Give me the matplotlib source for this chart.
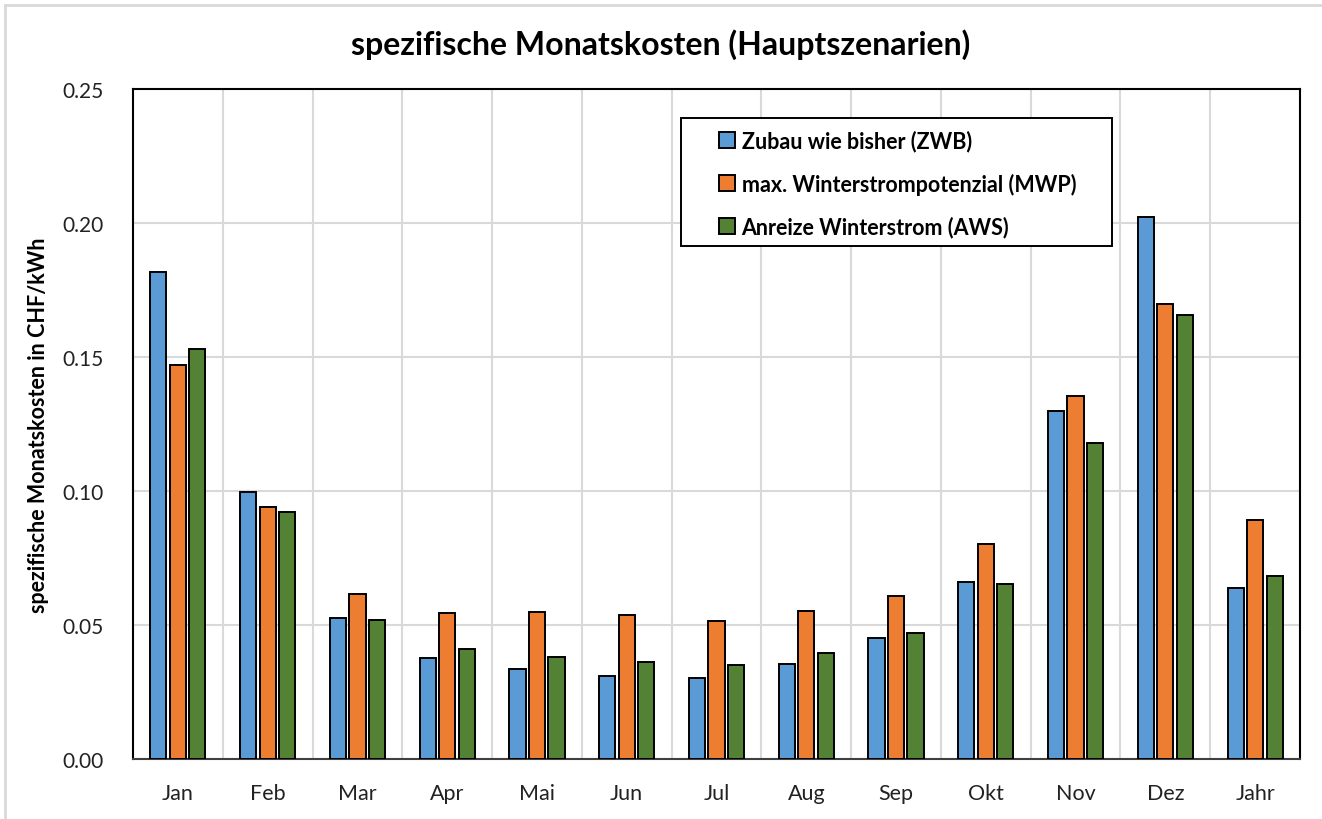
import matplotlib
matplotlib.use("Agg")
import matplotlib.pyplot as plt
import numpy as np
from matplotlib.lines import Line2D
from matplotlib.patches import Rectangle

categories = ["Jan", "Feb", "Mar", "Apr", "Mai", "Jun", "Jul", "Aug", "Sep", "Okt", "Nov", "Dez", "Jahr"]
series_names = ["Zubau wie bisher (ZWB)", "max. Winterstrompotenzial (MWP)", "Anreize Winterstrom (AWS)"]
zwb = [0.1817, 0.0995, 0.0527, 0.0377, 0.0336, 0.0311, 0.0303, 0.0356, 0.0450, 0.0660, 0.1297, 0.2024, 0.0639]
mwp = [0.1471, 0.0939, 0.0616, 0.0546, 0.0550, 0.0539, 0.0514, 0.0552, 0.0609, 0.0802, 0.1353, 0.1698, 0.0892]
aws = [0.1531, 0.0923, 0.0517, 0.0409, 0.0381, 0.0363, 0.0352, 0.0396, 0.0469, 0.0653, 0.1178, 0.1657, 0.0683]
yticks = [0.00, 0.05, 0.10, 0.15, 0.20, 0.25]
colors = ["#5B9BD5", "#ED7D31", "#548235"]

plt.rcParams['font.family'] = ['Lato', 'DejaVu Sans']

W, H = 1322, 820
fig = plt.figure(figsize=(W/100, H/100), dpi=100)
ax = fig.add_axes([133/W, 1-760/H, (1300-133)/W, (760-90)/H])

x = np.arange(len(categories))
w = 0.18
off = 0.217
for i, (vals, c, name) in enumerate(zip([zwb, mwp, aws], colors, series_names)):
    ax.bar(x + (i-1)*off, vals, width=w, color=c, edgecolor="black", linewidth=1.4,
           label=name, zorder=3)

ax.set_xlim(-0.5, len(categories)-0.5)
ax.set_ylim(0, 0.25)
ax.set_yticks(yticks)
ax.set_yticklabels([f"{v:.2f}" for v in yticks], fontsize=15)
ax.set_xticks(x)
ax.set_xticklabels(categories, fontsize=15.5)
ax.tick_params(axis='both', length=0, colors="#222222")
ax.tick_params(axis='y', pad=21)
ax.tick_params(axis='x', pad=17)
for b in np.arange(0.5, len(categories)-0.5, 1):
    ax.axvline(b, color="#D9D9D9", linewidth=1.5, zorder=0)
for yv in yticks[1:-1]:
    ax.axhline(yv, color="#D9D9D9", linewidth=1.5, zorder=0)
for s in ax.spines.values():
    s.set_color("black")
    s.set_linewidth(1.5)
ax.spines['bottom'].set_color("#404040")

ax.set_ylabel("spezifische Monatskosten in CHF/kWh", fontsize=15.5, fontweight="bold", labelpad=10)
fig.text(0.5, 1-45/H, "spezifische Monatskosten (Hauptszenarien)", ha="center", va="center",
         fontsize=23, fontweight="bold")

# legend frame drawn manually
fig.add_artist(Rectangle((681/W, 1-247/H), (1112-681)/W, (247-119)/H, transform=fig.transFigure,
                         facecolor="white", edgecolor="black", linewidth=1.4, zorder=4))
leg = ax.legend(loc="upper left", bbox_to_anchor=(719/W, 1-131/H), bbox_transform=fig.transFigure,
                fontsize=15.5, frameon=False,
                handlelength=0.75, handleheight=0.75, handletextpad=0.3,
                labelspacing=0.98, borderpad=0, borderaxespad=0)
for t in leg.get_texts():
    t.set_fontweight("bold")
leg.set_zorder(5)
fig.add_artist(leg)

# outer chart border (light gray)
fig.add_artist(Line2D([5/W, 5/W], [0, 1-6/H], transform=fig.transFigure, color="#D9D9D9", linewidth=2))
fig.add_artist(Line2D([5/W, 1], [1-6/H, 1-6/H], transform=fig.transFigure, color="#D9D9D9", linewidth=2))

fig.savefig("out.png", dpi=100)
